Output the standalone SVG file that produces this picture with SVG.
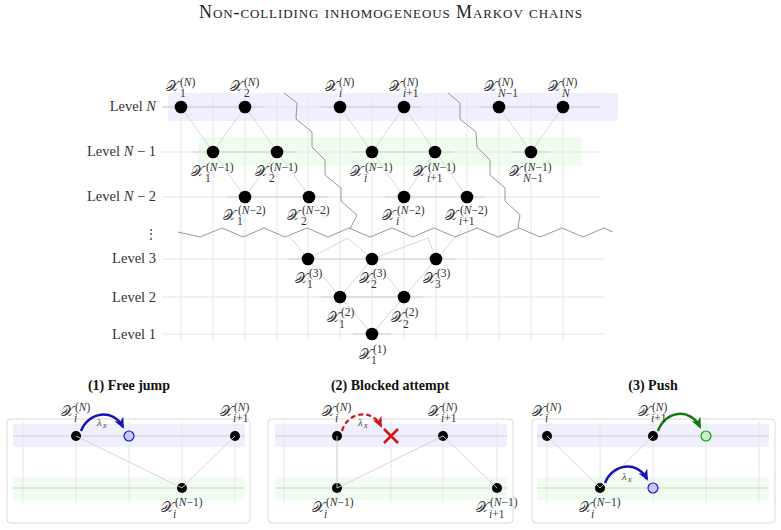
<svg xmlns="http://www.w3.org/2000/svg" width="781" height="530" viewBox="0 0 781 530">
<style>
.bg{fill:#fff}
.bandB{fill:#efeffd}
.bandG{fill:#f0fcf0}
.grid{stroke:#e6e6e6;stroke-width:1;fill:none}
.lvl{stroke:#e4e4e4;stroke-width:1}
.seg{stroke:#cfcfcf;stroke-width:1.2}
.edge{stroke:#d3d3d3;stroke-width:0.9;fill:none}
.cut{stroke:#8c8c8c;stroke-width:0.9;fill:none}
.node{fill:#000}
.sx{font-family:"DejaVu Serif","DejaVu Sans","Liberation Serif",serif;font-size:15px;fill:#333}
.ss{font-family:"Liberation Serif",serif;font-size:11.5px;fill:#333}
.it{font-style:italic}
.lv{font-family:"Liberation Serif",serif;font-size:14.5px;fill:#333;text-anchor:end}
.pt{font-family:"Liberation Serif",serif;font-size:14px;font-weight:bold;text-anchor:middle;fill:#111}
.title{font-family:"Liberation Serif",serif;font-size:18px;font-variant:small-caps;text-anchor:middle;fill:#222}
.box{fill:#fff;stroke:#dadada;stroke-width:1}
.lam{font-family:"Liberation Serif",serif;font-size:10.5px;font-style:italic;fill:#444}
.lams{font-family:"Liberation Serif",serif;font-size:8px;font-style:italic;fill:#444}
</style>
<defs>
<marker id="aB" markerUnits="userSpaceOnUse" markerWidth="12" markerHeight="10" refX="9" refY="5" orient="auto"><path d="M0,0 L11,5 L0,10 L3,5 z" fill="#1414b4"/></marker>
<marker id="aG" markerUnits="userSpaceOnUse" markerWidth="12" markerHeight="10" refX="9" refY="5" orient="auto"><path d="M0,0 L11,5 L0,10 L3,5 z" fill="#0c7a0c"/></marker>
<marker id="aR" markerUnits="userSpaceOnUse" markerWidth="12" markerHeight="10" refX="9" refY="5" orient="auto"><path d="M0,0 L11,5 L0,10 L3,5 z" fill="#cc1515"/></marker>
</defs>
<rect class="bg" x="0" y="0" width="781" height="530"/>
<text class="title" x="390.5" y="18" textLength="383" lengthAdjust="spacing">Non-colliding inhomogeneous Markov chains</text>

<!-- bands -->
<rect class="bandB" x="168" y="93" width="450" height="28" rx="3"/>
<rect class="bandG" x="198" y="137" width="384" height="29" rx="3"/>

<!-- grid -->
<g id="grid">
<path class="grid" d="M181,93V340M213,93V340M245,93V340M277,93V340M308,93V340M340,93V340M372,93V340M404,93V340M436,93V340M467,93V340M499,93V340M531,93V340M563,93V340"/>
<path class="lvl" d="M162,107H600M162,152H600M162,197H600M162,259H605M162,297H605M162,334H605"/>
<path class="seg" d="M163,107H263M321,107H422M480,107H600M194,152H296M353,152H454M512,152H550M226,197H328M385,197H486M289,259H455M321,297H423M353,334H391"/>
</g>

<!-- level labels -->
<g id="levels">
<text class="lv" x="156" y="111">Level <tspan class="it">N</tspan></text>
<text class="lv" x="156" y="156">Level <tspan class="it">N</tspan> − 1</text>
<text class="lv" x="156" y="201">Level <tspan class="it">N</tspan> − 2</text>
<text class="lv" x="157" y="238" style="font-family:'DejaVu Serif',serif;font-size:12px">⋮</text>
<text class="lv" x="156" y="263">Level 3</text>
<text class="lv" x="156" y="302">Level 2</text>
<text class="lv" x="156" y="339">Level 1</text>
</g>

<!-- connectors -->
<g id="connectors">
<path class="edge" d="M181,107L245,197M245,107L213,152M245,107L325,218M277,152L245,197"/>
<path class="edge" d="M340,107L404,197M404,107L372,152M404,107L467,197M435,152L404,197"/>
<path class="edge" d="M499,107L531,152M563,107L531,152"/>
<path class="edge" d="M308,259L372,334M372,259L340,297M372,259L404,297M436,259L404,297M404,297L372,334"/>
<path class="edge" d="M290,237L308,259M308,259L348,238L372,259M372,259L428,238L436,259M436,259L462,230"/>
<path class="cut" d="M284,93L297,103L296,119L312,132L312,147L325,160L325,175L341,188L341,201L357,215L350,229"/>
<path class="cut" d="M448,93L460,103L460,119L476,132L477,147L490,160L490,175L505,188L505,201L520,215L518,228"/>
<path class="cut" d="M178,232L200,237L222,228L243,237L264,228L285,237L307,228L328,237L349,228L370,237L392,228L413,237L434,228L455,237L477,228L498,237L519,228L540,237L562,228L583,237L604,228L613,232"/>
</g>

<!-- Level N nodes -->
<g id="xN_1"><circle class="node" cx="181" cy="107" r="6.3"/><text class="sx" x="166" y="91">𝒳</text><text class="ss" x="180" y="86">(<tspan class="it">N</tspan>)</text><text class="ss" x="180" y="97">1</text></g>
<g id="xN_2"><circle class="node" cx="245" cy="107" r="6.3"/><text class="sx" x="230" y="91">𝒳</text><text class="ss" x="244" y="86">(<tspan class="it">N</tspan>)</text><text class="ss" x="244" y="97">2</text></g>
<g id="xN_i"><circle class="node" cx="340" cy="107" r="6.3"/><text class="sx" x="325" y="91">𝒳</text><text class="ss" x="339" y="86">(<tspan class="it">N</tspan>)</text><text class="ss it" x="339" y="97">i</text></g>
<g id="xN_i1"><circle class="node" cx="404" cy="107" r="6.3"/><text class="sx" x="389" y="91">𝒳</text><text class="ss" x="403" y="86">(<tspan class="it">N</tspan>)</text><text class="ss" x="403" y="97"><tspan class="it">i</tspan>+1</text></g>
<g id="xN_N1"><circle class="node" cx="499" cy="107" r="6.3"/><text class="sx" x="484" y="91">𝒳</text><text class="ss" x="498" y="86">(<tspan class="it">N</tspan>)</text><text class="ss" x="498" y="97"><tspan class="it">N</tspan>−1</text></g>
<g id="xN_N"><circle class="node" cx="563" cy="107" r="6.3"/><text class="sx" x="548" y="91">𝒳</text><text class="ss" x="562" y="86">(<tspan class="it">N</tspan>)</text><text class="ss it" x="562" y="97">N</text></g>

<!-- Level N-1 nodes -->
<g id="xN1_1"><circle class="node" cx="213" cy="152" r="6.3"/><text class="sx" x="191" y="176">𝒳</text><text class="ss" x="206" y="171">(<tspan class="it">N</tspan>−1)</text><text class="ss" x="205" y="182">1</text></g>
<g id="xN1_2"><circle class="node" cx="277" cy="152" r="6.3"/><text class="sx" x="255" y="176">𝒳</text><text class="ss" x="270" y="171">(<tspan class="it">N</tspan>−1)</text><text class="ss" x="269" y="182">2</text></g>
<g id="xN1_i"><circle class="node" cx="372" cy="152" r="6.3"/><text class="sx" x="350" y="176">𝒳</text><text class="ss" x="365" y="171">(<tspan class="it">N</tspan>−1)</text><text class="ss it" x="364" y="182">i</text></g>
<g id="xN1_i1"><circle class="node" cx="435" cy="152" r="6.3"/><text class="sx" x="413" y="176">𝒳</text><text class="ss" x="428" y="171">(<tspan class="it">N</tspan>−1)</text><text class="ss" x="427" y="182"><tspan class="it">i</tspan>+1</text></g>
<g id="xN1_N1"><circle class="node" cx="531" cy="152" r="6.3"/><text class="sx" x="509" y="176">𝒳</text><text class="ss" x="524" y="171">(<tspan class="it">N</tspan>−1)</text><text class="ss" x="523" y="182"><tspan class="it">N</tspan>−1</text></g>

<!-- Level N-2 nodes -->
<g id="xN2_1"><circle class="node" cx="245" cy="197" r="6.3"/><text class="sx" x="223" y="220">𝒳</text><text class="ss" x="238" y="214">(<tspan class="it">N</tspan>−2)</text><text class="ss" x="237" y="225">1</text></g>
<g id="xN2_2"><circle class="node" cx="309" cy="197" r="6.3"/><text class="sx" x="287" y="220">𝒳</text><text class="ss" x="302" y="214">(<tspan class="it">N</tspan>−2)</text><text class="ss" x="301" y="225">2</text></g>
<g id="xN2_i"><circle class="node" cx="404" cy="197" r="6.3"/><text class="sx" x="382" y="220">𝒳</text><text class="ss" x="397" y="214">(<tspan class="it">N</tspan>−2)</text><text class="ss it" x="396" y="225">i</text></g>
<g id="xN2_i1"><circle class="node" cx="467" cy="197" r="6.3"/><text class="sx" x="445" y="220">𝒳</text><text class="ss" x="460" y="214">(<tspan class="it">N</tspan>−2)</text><text class="ss" x="459" y="225"><tspan class="it">i</tspan>+1</text></g>

<!-- Level 3, 2, 1 nodes -->
<g id="x3_1"><circle class="node" cx="308" cy="259" r="6.3"/><text class="sx" x="295" y="283">𝒳</text><text class="ss" x="309" y="277">(3)</text><text class="ss" x="307" y="288">1</text></g>
<g id="x3_2"><circle class="node" cx="372" cy="259" r="6.3"/><text class="sx" x="359" y="283">𝒳</text><text class="ss" x="373" y="277">(3)</text><text class="ss" x="371" y="288">2</text></g>
<g id="x3_3"><circle class="node" cx="436" cy="259" r="6.3"/><text class="sx" x="423" y="283">𝒳</text><text class="ss" x="437" y="277">(3)</text><text class="ss" x="435" y="288">3</text></g>
<g id="x2_1"><circle class="node" cx="340" cy="297" r="6.3"/><text class="sx" x="327" y="322">𝒳</text><text class="ss" x="341" y="316">(2)</text><text class="ss" x="339" y="328">1</text></g>
<g id="x2_2"><circle class="node" cx="404" cy="297" r="6.3"/><text class="sx" x="391" y="322">𝒳</text><text class="ss" x="405" y="316">(2)</text><text class="ss" x="403" y="328">2</text></g>
<g id="x1_1"><circle class="node" cx="372" cy="334" r="6.3"/><text class="sx" x="359" y="359">𝒳</text><text class="ss" x="373" y="353">(1)</text><text class="ss" x="371" y="364">1</text></g>

<!-- Panel 1 -->
<g id="panel1">
<text class="pt" x="129" y="390">(1) Free jump</text>
<rect class="box" x="7" y="419" width="243" height="104" rx="4"/>
<rect class="bandB" x="13" y="424" width="232" height="23" rx="2"/>
<rect class="bandG" x="13" y="477" width="232" height="23" rx="2"/>
<path class="grid" d="M23,422V503M76,422V503M129,422V503M182,422V503M235,422V503"/>
<path class="seg" d="M13,436H245M13,488H245"/>
<circle class="node" cx="76" cy="436" r="5"/>
<circle class="node" cx="235" cy="436" r="5"/>
<circle class="node" cx="182" cy="488" r="5"/>
<path class="edge" d="M76,436L182,488M235,436L182,488"/>
<circle cx="129" cy="436" r="5" fill="#c8c8fa" stroke="#1a1ad0" stroke-width="1.2"/>
<path d="M81,431 C88,412 113,408 123,427" fill="none" stroke="#1414b4" stroke-width="2.5" marker-end="url(#aB)"/>
<text class="lam" x="97" y="426">λ</text><text class="lams" x="103" y="428">x</text>
<text class="sx" x="61" y="416">𝒳</text><text class="ss" x="75" y="411">(<tspan class="it">N</tspan>)</text><text class="ss it" x="74" y="422">i</text>
<text class="sx" x="220" y="416">𝒳</text><text class="ss" x="234" y="411">(<tspan class="it">N</tspan>)</text><text class="ss" x="233" y="422"><tspan class="it">i</tspan>+1</text>
<text class="sx" x="161" y="512">𝒳</text><text class="ss" x="175" y="506">(<tspan class="it">N</tspan>−1)</text><text class="ss it" x="173" y="518">i</text>
</g>

<!-- Panel 2 -->
<g id="panel2">
<text class="pt" x="390" y="390">(2) Blocked attempt</text>
<rect class="box" x="268" y="419" width="245" height="104" rx="4"/>
<rect class="bandB" x="275" y="424" width="232" height="23" rx="2"/>
<rect class="bandG" x="275" y="477" width="232" height="23" rx="2"/>
<path class="grid" d="M284,422V503M337,422V503M391,422V503M443,422V503M497,422V503"/>
<path class="seg" d="M275,436H507M275,488H507"/>
<circle class="node" cx="337" cy="436" r="5"/>
<circle class="node" cx="443" cy="436" r="5"/>
<circle class="node" cx="337" cy="488" r="5"/>
<circle class="node" cx="497" cy="488" r="5"/>
<path class="edge" d="M337,436L337,488M443,436L337,488M443,436L497,488"/>
<path d="M342,431 C347,412 372,408 381,426" fill="none" stroke="#cc1515" stroke-width="2.2" stroke-dasharray="5,3" marker-end="url(#aR)"/>
<path d="M384,429L398,443M398,429L384,443" stroke="#cc1515" stroke-width="2.5"/>
<text class="lam" x="358" y="426">λ</text><text class="lams" x="364" y="428">x</text>
<text class="sx" x="322" y="416">𝒳</text><text class="ss" x="336" y="411">(<tspan class="it">N</tspan>)</text><text class="ss it" x="335" y="422">i</text>
<text class="sx" x="428" y="416">𝒳</text><text class="ss" x="442" y="411">(<tspan class="it">N</tspan>)</text><text class="ss" x="441" y="422"><tspan class="it">i</tspan>+1</text>
<text class="sx" x="312" y="512">𝒳</text><text class="ss" x="326" y="506">(<tspan class="it">N</tspan>−1)</text><text class="ss it" x="324" y="518">i</text>
<text class="sx" x="476" y="512">𝒳</text><text class="ss" x="490" y="506">(<tspan class="it">N</tspan>−1)</text><text class="ss" x="489" y="518"><tspan class="it">i</tspan>+1</text>
</g>

<!-- Panel 3 -->
<g id="panel3">
<text class="pt" x="653" y="390">(3) Push</text>
<rect class="box" x="532" y="419" width="243" height="104" rx="4"/>
<rect class="bandB" x="537" y="424" width="232" height="23" rx="2"/>
<rect class="bandG" x="537" y="477" width="232" height="23" rx="2"/>
<path class="grid" d="M547,422V503M600,422V503M653,422V503M706,422V503M759,422V503"/>
<path class="seg" d="M537,436H769M537,488H769"/>
<circle class="node" cx="547" cy="436" r="5"/>
<circle class="node" cx="653" cy="436" r="5"/>
<circle class="node" cx="600" cy="488" r="5"/>
<path class="edge" d="M547,436L600,488M653,436L600,488"/>
<circle cx="706" cy="436" r="5" fill="#c8f5c8" stroke="#1a9a1a" stroke-width="1.2"/>
<circle cx="653" cy="488" r="5" fill="#c8c8fa" stroke="#1a1ad0" stroke-width="1.2"/>
<path d="M658,431 C665,411 690,407 700,427" fill="none" stroke="#0c7a0c" stroke-width="2.5" marker-end="url(#aG)"/>
<path d="M605,483 C612,464 637,460 647,479" fill="none" stroke="#1414b4" stroke-width="2.5" marker-end="url(#aB)"/>
<text class="lam" x="622" y="480">λ</text><text class="lams" x="628" y="482">x</text>
<text class="sx" x="532" y="416">𝒳</text><text class="ss" x="546" y="411">(<tspan class="it">N</tspan>)</text><text class="ss it" x="545" y="422">i</text>
<text class="sx" x="638" y="416">𝒳</text><text class="ss" x="652" y="411">(<tspan class="it">N</tspan>)</text><text class="ss" x="651" y="422"><tspan class="it">i</tspan>+1</text>
<text class="sx" x="579" y="512">𝒳</text><text class="ss" x="593" y="506">(<tspan class="it">N</tspan>−1)</text><text class="ss it" x="591" y="518">i</text>
</g>
</svg>
